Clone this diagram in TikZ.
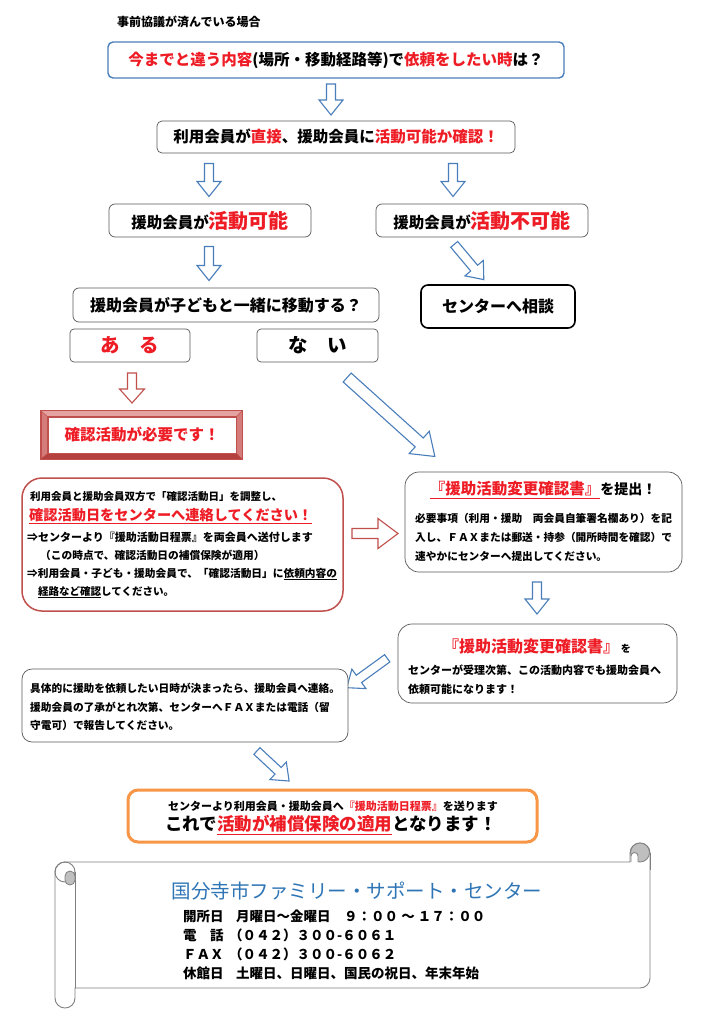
\documentclass[tikz,border=0pt]{standalone}
\usepackage{fontspec}
\setmainfont{Noto Sans CJK JP}
\definecolor{txtred}{HTML}{EE1C25}
\definecolor{boxblue}{HTML}{4A7EBB}
\definecolor{arrblue}{HTML}{4A7EBB}
\definecolor{boxred}{HTML}{C0504D}
\definecolor{boxgray}{HTML}{595959}
\definecolor{orng}{HTML}{F79646}
\definecolor{ttlblue}{HTML}{2E75B6}
\definecolor{bevelmid}{HTML}{D47C79}
\definecolor{bevellight}{HTML}{E4A3A1}
\definecolor{beveldark}{HTML}{B5413E}
\definecolor{scrollline}{HTML}{7F7F7F}
\definecolor{curlgray}{HTML}{BFBFBF}
\newcommand\fsz[1]{\fontsize{#1}{#1}\selectfont}
\newcommand\uln[1]{$\underline{\hbox{#1}}$}
% block arrow: #1 centre, #2 angle, #3 length, #4 half shaft, #5 half head, #6 head length, #7 colour
\newcommand\blockarr[7]{%
  \begin{scope}[shift={#1}, rotate=#2]
    \filldraw[draw=#7, fill=white, line width=1.1pt, line join=miter]
      (-#3/2,-#4) -- (#3/2-#6,-#4) -- (#3/2-#6,-#5) -- (#3/2,0) -- (#3/2-#6,#5) -- (#3/2-#6,#4) -- (-#3/2,#4) -- cycle;
  \end{scope}}
\begin{document}
\begin{tikzpicture}[x=1pt,y=-1pt,
  rbox/.style={draw=boxgray, line width=0.7pt, rounded corners=6pt, fill=white, inner sep=0pt, font=\bfseries},
  bluebox/.style={rbox, draw=boxblue, line width=1.4pt, rounded corners=5pt},
  txt/.style={inner sep=0pt, anchor=west, font=\bfseries},
  ctxt/.style={inner sep=0pt, font=\bfseries},
]
\useasboundingbox (0,0) rectangle (709,1024);
\fill[white] (0,0) rectangle (709,1024);

% header
\node[txt] (hdr) at (117,22) {\fsz{12}事前協議が済んでいる場合};

\node[bluebox, minimum width=456pt, minimum height=36pt] (q1) at (336,60) {\fsz{15.5}{\color{txtred}今までと違う内容}(場所・移動経路等)で{\color{txtred}依頼をしたい時}は？};
\blockarr{(331,99.5)}{-90}{31}{4.5}{12}{15}{arrblue}
\node[rbox, minimum width=358pt, minimum height=32pt, rounded corners=5pt] (q2) at (336,137) {\fsz{15.5}利用会員が{\color{txtred}直接}、援助会員に{\color{txtred}活動可能か確認！}};
\blockarr{(209,180)}{-90}{33}{4.5}{12}{15}{arrblue}
\blockarr{(453,180)}{-90}{33}{4.5}{12}{15}{arrblue}
\node[rbox, minimum width=202pt, minimum height=33pt] (ok) at (210,220.5) {\fsz{15.5}援助会員が{\fsz{20}\color{txtred}活動可能}};
\node[rbox, minimum width=212pt, minimum height=33pt] (ng) at (482,220.5) {\fsz{15.5}援助会員が{\fsz{20}\color{txtred}活動不可能}};
\blockarr{(209,263.5)}{-90}{34}{4.5}{12}{15}{arrblue}
\blockarr{(469,262)}{-50}{46}{4.5}{12}{15}{arrblue}
\node[rbox, minimum width=306pt, minimum height=34pt] (move) at (226,305) {\fsz{16}援助会員が子どもと一緒に移動する？};
\node[rbox, draw=black, line width=1.6pt, minimum width=154pt, minimum height=43pt, rounded corners=7pt] (soudan) at (498,306.5) {\fsz{16}センターへ相談};
\node[rbox, minimum width=120pt, minimum height=33pt, rounded corners=4pt] (yes) at (130,345.5) {\fsz{19.5}\color{txtred}あ　る};
\node[rbox, minimum width=121pt, minimum height=33pt, rounded corners=4pt] (no) at (317.5,345.5) {\fsz{19.5}な　い};
\blockarr{(132,388)}{-90}{30}{4.5}{12.5}{14}{boxred}
\blockarr{(391,417)}{-42}{118}{6}{15}{21}{arrblue}

% bevel box
\node[draw=boxred, line width=0.8pt, fill=bevelmid, minimum width=201pt, minimum height=48pt, inner sep=0pt] (bev) at (141.5,435) {};
\node[draw=boxred, line width=0.8pt, fill=white, minimum width=188pt, minimum height=36pt, inner sep=0pt] (bevin) at (142,435) {\fsz{15.5}\bfseries\color{txtred}確認活動が必要です！};
\fill[bevellight] (bev.north west) -- (bev.north east) -- (bevin.north east) -- (bevin.north west) -- cycle;
\fill[beveldark] (bev.south west) -- (bev.south east) -- (bevin.south east) -- (bevin.south west) -- cycle;
\draw[boxred, line width=0.8pt] (bev.north west) rectangle (bev.south east);
\draw[boxred, line width=0.8pt] (bevin.north west) rectangle (bevin.south east);
\draw[boxred, line width=0.5pt] (bev.north west) -- (bevin.north west) (bev.north east) -- (bevin.north east) (bev.south west) -- (bevin.south west) (bev.south east) -- (bevin.south east);

% red box
\node[rbox, draw=boxred, line width=1.5pt, rounded corners=20pt, minimum width=321pt, minimum height=133pt] (redbox) at (182.5,544.5) {};
\node[txt] (r1) at (30,497) {\fsz{10.5}利用会員と援助会員双方で「確認活動日」を調整し、};
\node[txt] (r2) at (29,516) {\fsz{14.2}\color{txtred}\uln{確認活動日をセンターへ連絡してください！}};
\node[txt] (r3) at (27,537) {\fsz{11}⇒センターより『援助活動日程票』を両会員へ送付します};
\node[txt] (r4) at (40,555) {\fsz{10.7}（この時点で、確認活動日の補償保険が適用）};
\node[txt] (r5) at (27,574) {\fsz{10.7}⇒利用会員・子ども・援助会員で、「確認活動日」に\uln{依頼内容の}};
\node[txt] (r6) at (38,592) {\fsz{10.5}\uln{経路など確認}してください。};

\blockarr{(375,533.5)}{0}{46}{5}{15}{20}{boxred}

% submit box
\node[rbox, rounded corners=14pt, minimum width=277pt, minimum height=100pt] (submit) at (543.5,522) {};
\node[ctxt] (subt) at (543,490) {{\fsz{15.5}\color{txtred}\uln{『援助活動変更確認書』}}\fsz{14}を提出！};
\node[txt] (sub1) at (415,518) {\fsz{10.7}必要事項（利用・援助　両会員自筆署名欄あり）を記};
\node[txt] (sub2) at (415,537) {\fsz{10.7}入し、ＦＡＸまたは郵送・持参（開所時間を確認）で};
\node[txt] (sub3) at (415,556) {\fsz{10.7}速やかにセンターへ提出してください。};

\blockarr{(537,598)}{-90}{32}{4.5}{12}{15}{arrblue}

% accept box
\node[rbox, rounded corners=14pt, minimum width=279pt, minimum height=79pt] (accept) at (537.5,663.5) {};
\node[ctxt] (acct) at (537,646) {{\fsz{16}\color{txtred}『援助活動変更確認書』}\,{\fsz{10}を}};
\node[txt] (acc1) at (408,670) {\fsz{11}センターが受理次第、この活動内容でも援助会員へ};
\node[txt] (acc2) at (408,689) {\fsz{11}依頼可能になります！};

\blockarr{(367,673)}{-144}{50}{4.5}{12}{15}{arrblue}

% report box
\node[rbox, rounded corners=10pt, minimum width=326pt, minimum height=73pt] (report) at (185,705.5) {};
\node[txt] (rep1) at (30,688) {\fsz{10.7}具体的に援助を依頼したい日時が決まったら、援助会員へ連絡。};
\node[txt] (rep2) at (30,707) {\fsz{10.7}援助会員の了承がとれ次第、センターへＦＡＸまたは電話（留};
\node[txt] (rep3) at (30,725) {\fsz{10.7}守電可）で報告してください。};

\blockarr{(273,766)}{-43}{44}{4.5}{12}{15}{arrblue}

% final box
\node[rbox, draw=orng, line width=3pt, rounded corners=10pt, minimum width=409pt, minimum height=52pt] (final) at (332.5,816) {};
\node[ctxt] (fin1) at (333,806) {\fsz{11}センターより利用会員・援助会員へ{\color{txtred}『援助活動日程票』}を送ります};
\node[ctxt] (fin2) at (331,825) {\fsz{17.5}これで{\color{txtred}\uln{活動が補償保険の適用}}となります！};

% scroll
\filldraw[draw=scrollline, line width=0.9pt, fill=white]
  (75,988) -- (640,988) arc[start angle=90,end angle=0,radius=10]
  -- (650,853) arc[start angle=0,end angle=-180,radius=10]
  -- (630,862) -- (65,862) arc[start angle=-90,end angle=-180,radius=10]
  -- (55,998) arc[start angle=180,end angle=0,radius=10] -- cycle;
\draw[scrollline, line width=0.9pt] (75,988) -- (75,872);
\draw[scrollline, line width=0.9pt] (65,872) circle[radius=10];
\filldraw[draw=scrollline, fill=curlgray, line width=0.8pt] (65,876) arc[start angle=180,end angle=360,radius=5] -- (75,880) arc[start angle=0,end angle=180,radius=5] -- cycle;
\filldraw[draw=scrollline, fill=curlgray, line width=0.8pt] (640,852.5) circle[radius=9.5];
\filldraw[draw=scrollline, fill=white, line width=0.8pt] (631,862) -- (631,856) arc[start angle=180,end angle=360,radius=3.5] -- (638,862);
\draw[scrollline, line width=0.9pt] (650,853) -- (650,870);

\node[inner sep=0pt] (ttl) at (357,891) {\fsz{19.5}\color{ttlblue}国分寺市ファミリー・サポート・センター};
\node[txt] (l1) at (183,916) {\fsz{13.5}開所日};
\node[txt] (v1) at (236,916) {\fsz{13.5}月曜日～金曜日　９：００ ～ １７：００};
\node[txt] (l2) at (183,935) {\fsz{13.5}電　話};
\node[txt] (v2) at (229,935) {\fsz{13.5}（０４２）３００-６０６１};
\node[txt] (l3) at (183,954) {\fsz{13.5}ＦＡＸ};
\node[txt] (v3) at (229,954) {\fsz{13.5}（０４２）３００-６０６２};
\node[txt] (l4) at (183,973) {\fsz{13.5}休館日};
\node[txt] (v4) at (236,973) {\fsz{13.5}土曜日、日曜日、国民の祝日、年末年始};
\end{tikzpicture}
\end{document}
